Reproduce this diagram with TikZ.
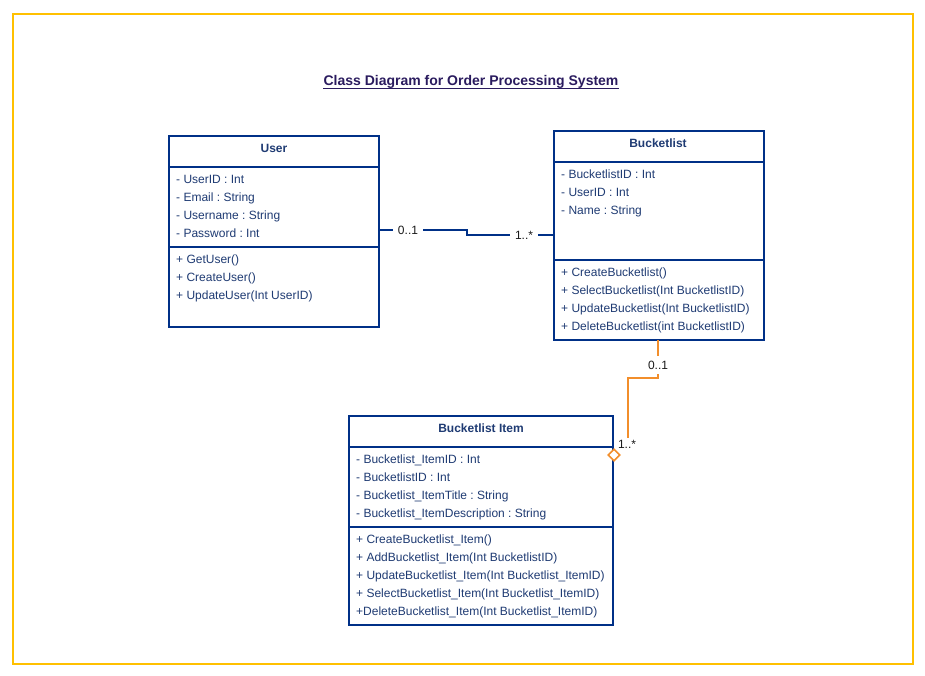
\documentclass[tikz,border=0pt]{standalone}
\usepackage{fontspec}
\setmainfont{Liberation Sans}
\usetikzlibrary{shapes.geometric,calc}
\definecolor{navy}{HTML}{003087}
\definecolor{txt}{HTML}{1F3B73}
\definecolor{orng}{HTML}{F28E2B}
\definecolor{framec}{HTML}{FFC000}
\definecolor{titlec}{HTML}{2A1B5E}
\frenchspacing
\begin{document}
\begin{tikzpicture}[x=1pt,y=-1pt,
  classbox/.style={draw=navy, line width=1.6pt, fill=white, inner sep=0pt, outer sep=0pt, anchor=north west},
  divider/.style={draw=navy, line width=1.6pt},
  attr/.style={anchor=base west, inner sep=0pt, text=txt, font=\fontsize{12}{14}\selectfont},
  cname/.style={anchor=base, inner sep=0pt, text=txt, font=\bfseries\fontsize{12}{14}\selectfont},
  mult/.style={fill=white, inner xsep=5pt, inner ysep=4pt, text=black!90, font=\fontsize{12}{14}\selectfont},
  navyconn/.style={draw=navy, line width=1.6pt},
  orngconn/.style={draw=orng, line width=1.6pt},
]
\useasboundingbox (0,0) rectangle (925,675);
\draw[framec, line width=1.8pt] (13,14) rectangle (913,664);

% title
\node[anchor=base, inner sep=0pt, text=titlec, font=\bfseries\fontsize{14}{16}\selectfont] (title) at (471,85) {Class Diagram for Order Processing System};
\draw[titlec, line width=0.9pt] ($(title.base west)+(0,3.6)$) -- ($(title.base east)+(0,3.6)$);

% User
\node[classbox, minimum width=210pt, minimum height=191pt] (user) at (169,136) {};
\draw[divider] (user.west |- 0,167) -- (user.east |- 0,167);
\draw[divider] (user.west |- 0,247) -- (user.east |- 0,247);
\node[cname] (usern) at (274,152.5) {User};
\node[attr] (u1) at (176,183.5) {- UserID : Int};
\node[attr] (u2) at (176,201.5) {- Email : String};
\node[attr] (u3) at (176,219.5) {- Username : String};
\node[attr] (u4) at (176,237.5) {- Password : Int};
\node[attr] (u5) at (176,263.5) {+ GetUser()};
\node[attr] (u6) at (176,281.5) {+ CreateUser()};
\node[attr] (u7) at (176,299.5) {+ UpdateUser(Int UserID)};

% Bucketlist
\node[classbox, minimum width=210pt, minimum height=209pt] (bucket) at (554,131) {};
\draw[divider] (bucket.west |- 0,162) -- (bucket.east |- 0,162);
\draw[divider] (bucket.west |- 0,260) -- (bucket.east |- 0,260);
\node[cname] (bucketn) at (658,147.5) {Bucketlist};
\node[attr] (b1) at (561,178.5) {- BucketlistID : Int};
\node[attr] (b2) at (561,196.5) {- UserID : Int};
\node[attr] (b3) at (561,214.5) {- Name : String};
\node[attr] (b4) at (561,276.5) {+ CreateBucketlist()};
\node[attr] (b5) at (561,294.5) {+ SelectBucketlist(Int BucketlistID)};
\node[attr] (b6) at (561,312.5) {+ UpdateBucketlist(Int BucketlistID)};
\node[attr] (b7) at (561,330.5) {+ DeleteBucketlist(int BucketlistID)};

% Bucketlist Item
\node[classbox, minimum width=264pt, minimum height=209pt] (item) at (349,416) {};
\draw[divider] (item.west |- 0,447) -- (item.east |- 0,447);
\draw[divider] (item.west |- 0,527) -- (item.east |- 0,527);
\node[cname] (itemn) at (481,432.5) {Bucketlist Item};
\node[attr] (i1) at (356,463.5) {- Bucketlist\_ItemID : Int};
\node[attr] (i2) at (356,481.5) {- BucketlistID : Int};
\node[attr] (i3) at (356,499.5) {- Bucketlist\_ItemTitle : String};
\node[attr] (i4) at (356,517.5) {- Bucketlist\_ItemDescription : String};
\node[attr] (i5) at (356,543.5) {+ CreateBucketlist\_Item()};
\node[attr] (i6) at (356,561.5) {+ AddBucketlist\_Item(Int BucketlistID)};
\node[attr] (i7) at (356,579.5) {+ UpdateBucketlist\_Item(Int Bucketlist\_ItemID)};
\node[attr] (i8) at (356,597.5) {+ SelectBucketlist\_Item(Int Bucketlist\_ItemID)};
\node[attr] (i9) at (356,615.5) {+DeleteBucketlist\_Item(Int Bucketlist\_ItemID)};

% User -- Bucketlist
\draw[navyconn] (user.east |- 0,230) -- (467,230) -- (467,235) -- (bucket.west |- 0,235);
\node[mult] (m1) at (408,230) {0..1};
\node[mult] (m2) at (524,235) {1..*};

% Bucketlist -- Bucketlist Item (aggregation)
\node[mult, inner xsep=2pt, inner ysep=2pt] (m4) at (627,444) {1..*};
\draw[orngconn] (658,0 |- bucket.south) -- (658,378) -- (628,378) -- (628,0 |- m4.north);
\node[mult, inner ysep=5pt] (m3) at (658,365) {0..1};
\node[diamond, draw=orng, fill=white, line width=1.6pt, minimum width=12pt, minimum height=12pt, inner sep=0pt] (agg) at (614,455) {};
\end{tikzpicture}
\end{document}
